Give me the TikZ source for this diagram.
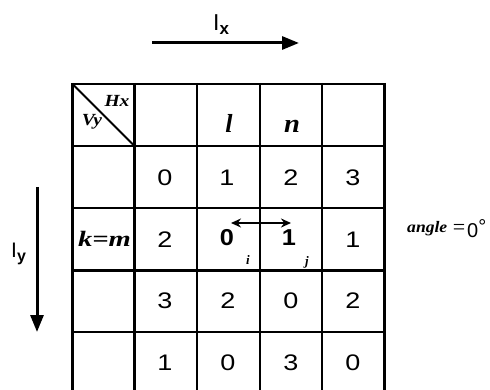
\documentclass[tikz,border=0pt]{standalone}
\usepackage{fontspec}
\setmainfont{Liberation Serif}
\setsansfont{Liberation Sans}
\usetikzlibrary{arrows.meta}
\newcommand{\myhs}[2]{\scalebox{#1}[1]{#2}}
\begin{document}
\begin{tikzpicture}[x=1pt,y=-1pt,
  gridline/.style={line width=2.4pt},
  num/.style={font=\sffamily\fontsize{22.5}{26}\selectfont, inner sep=0pt},
  bnum/.style={font=\sffamily\bfseries\fontsize{23}{26}\selectfont, inner sep=0pt},
  ital/.style={font=\bfseries\itshape\fontsize{26}{30}\selectfont, inner sep=0pt, anchor=base},
  small/.style={font=\bfseries\itshape\fontsize{17}{20}\selectfont, inner sep=0pt},
  tiny/.style={font=\bfseries\itshape\fontsize{13}{15}\selectfont, inner sep=0pt},
  axis/.style={line width=3pt, -{Triangle[length=17pt,width=13pt]}},
  swap/.style={line width=2.4pt, {Stealth[length=10pt,width=9pt]}-{Stealth[length=10pt,width=9pt]}},
  lab/.style={font=\sffamily\fontsize{23}{26}\selectfont, inner sep=0pt, anchor=base west}
]
\useasboundingbox (0,0) rectangle (490,390);
% grid
\foreach \x in {72.5,134.5,197,260,322,384.5}
  \draw[gridline] (\x,83) -- (\x,391);
\foreach \y in {84,146,208,270.5,332}
  \draw[gridline] (71.3,\y) -- (385.7,\y);
\draw[line width=1.8pt] (72.5,84) -- (134.5,146);
% header cell
\node[small] (hx) at (117,101) {\myhs{1.15}{Hx}};
\node[small] (vy) at (92,122) {\myhs{1.15}{Vy}};
\node[ital] (l) at (229,133) {l};
\node[ital] (n) at (292,133) {\myhs{1.1}{n}};
% row 2
\node[num] (a1) at (165,178) {\myhs{1.2}{0}};
\node[num] (a2) at (227,178) {\myhs{1.2}{1}};
\node[num] (a3) at (291,178) {\myhs{1.2}{2}};
\node[num] (a4) at (353,178) {\myhs{1.2}{3}};
% row 3
\node[ital, font=\bfseries\itshape\fontsize{22}{26}\selectfont] (km) at (104.5,247) {\myhs{1.3}{k=m}};
\node[num] (b1) at (165,240) {\myhs{1.2}{2}};
\node[bnum] (b2) at (227,238) {\myhs{1.1}{0}};
\node[bnum] (b3) at (289,238) {\myhs{1.1}{1}};
\node[num] (b4) at (353,240) {\myhs{1.2}{1}};
\node[tiny] (si) at (248,260) {i};
\node[tiny] (sj) at (307,262) {j};
\coordinate (sl) at (231,223);
\coordinate (sr) at (291,223);
\draw[swap] (sl) -- (sr);
% row 4
\node[num] (c1) at (165,301) {\myhs{1.2}{3}};
\node[num] (c2) at (228,301) {\myhs{1.2}{2}};
\node[num] (c3) at (291,301) {\myhs{1.2}{0}};
\node[num] (c4) at (353,301) {\myhs{1.2}{2}};
% row 5
\node[num] (d1) at (165,363) {\myhs{1.2}{1}};
\node[num] (d2) at (228,363) {\myhs{1.2}{0}};
\node[num] (d3) at (291,363) {\myhs{1.2}{3}};
\node[num] (d4) at (353,363) {\myhs{1.2}{0}};
% angle
\node[inner sep=0pt, anchor=base west, font=\bfseries\itshape\fontsize{16}{18}\selectfont] (ang) at (407,233) {\myhs{1.1}{angle}};
\node[inner sep=0pt, font=\fontsize{22}{24}\selectfont] (eq) at (459,229) {=};
\node[inner sep=0pt, anchor=base west, font=\sffamily\fontsize{20}{22}\selectfont] (deg) at (467,237) {0\raisebox{3pt}{\textdegree}};
% axes
\coordinate (ix0) at (152,43);
\coordinate (ix1) at (299,43);
\draw[axis] (ix0) -- (ix1);
\node[lab] (ixl) at (213,31) {I\textsubscript{\bfseries\fontsize{17}{20}\selectfont x}};
\coordinate (iy0) at (37,187);
\coordinate (iy1) at (37,332);
\draw[axis] (iy0) -- (iy1);
\node[lab, font=\sffamily\fontsize{21}{24}\selectfont] (iyl) at (11,258) {I\textsubscript{\bfseries\fontsize{16}{18}\selectfont y}};
\end{tikzpicture}
\end{document}
